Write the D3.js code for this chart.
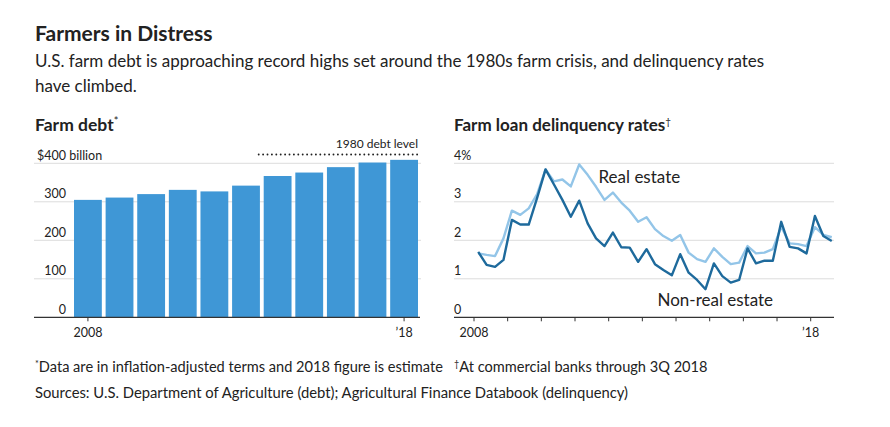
<!DOCTYPE html>
<html><head><meta charset="utf-8">
<script src="https://cdn.jsdelivr.net/npm/d3@7"></script>
<style>
body{margin:0;background:#fff}
svg{display:block}
text{font-family:Lato,"Open Sans",sans-serif;fill:#222}
</style>
</head><body><svg id="c" width="890" height="427"></svg>
<script>
// ---- data ----
const debtYears = [2008,2009,2010,2011,2012,2013,2014,2015,2016,2017,2018];
const debtValues = [305,311,320,331,327,342,367,376,390,402,409];
const debt1980Level = 423;
const debtTicks = [0,100,200,300,400];
const debtTickLabels = ["0","100","200","300","$400"];
const debtXLabels = {2008:"2008",2018:"\u201918"};

const rateStartYear = 2008;
const quarterCount = 43; // 2008 Q1 – 2018 Q3
const realEstate = [1.66,1.62,1.59,2.05,2.77,2.66,2.83,3.20,3.84,3.53,3.58,3.40,3.97,3.70,3.39,3.05,3.24,2.98,2.77,2.48,2.60,2.29,2.11,1.99,2.14,1.68,1.51,1.44,1.79,1.57,1.38,1.42,1.85,1.66,1.68,1.77,2.35,1.92,1.90,1.85,2.34,2.14,2.08];
const nonRealEstate = [1.70,1.36,1.31,1.49,2.53,2.41,2.41,3.10,3.84,3.45,3.05,2.61,3.03,2.44,2.05,1.85,2.20,1.82,1.81,1.44,1.77,1.38,1.23,1.09,1.64,1.16,0.97,0.73,1.40,1.07,0.90,0.97,1.79,1.40,1.47,1.47,2.48,1.83,1.79,1.66,2.63,2.11,1.98];
const rateTicks = [0,1,2,3,4];
const rateTickLabels = ["0","1","2","3","4%"];
const rateYearTicks = d3.range(2008,2019);
const rateXLabels = {2008:"2008",2018:"\u201918"};

const quarters = d3.range(quarterCount).map(i => ({
  t: rateStartYear + Math.floor(i/4) + (i%4)/4 + 0.125
}));

// ---- styles ----
const C = {bar:"#3f97d6", light:"#93c5e8", dark:"#1e6a9c", grid:"#dcdcdc", axis:"#333", text:"#222"};
const TICK_FS = 12.5;

const svg = d3.select("#c");

// titles
svg.append("text").attr("x",35).attr("y",41).attr("font-size",21).attr("font-weight",700).attr("fill","#222")
  .text("Farmers in Distress");
svg.append("text").attr("x",35).attr("y",67).attr("font-size",17).attr("fill","#222")
  .text("U.S. farm debt is approaching record highs set around the 1980s farm crisis, and delinquency rates");
svg.append("text").attr("x",35).attr("y",92).attr("font-size",17).attr("fill","#222")
  .text("have climbed.");

// ---- left: farm debt ----
const h1 = svg.append("text").attr("x",35).attr("y",131).attr("font-size",17.5).attr("font-weight",700);
h1.append("tspan").text("Farm debt");
h1.append("tspan").attr("font-size",11).attr("font-weight",400).attr("dy",-6).text("*");

const yDebt = d3.scaleLinear().domain([0,400]).range([317.3,163.3]);
const xDebt = d3.scaleBand().domain(debtYears).range([74,418]).paddingInner(0.12).paddingOuter(0);

const gL = svg.append("g");
gL.selectAll("line.grid").data(debtTicks.slice(1)).join("line")
  .attr("x1",34).attr("x2",421).attr("y1",d=>yDebt(d)).attr("y2",d=>yDebt(d))
  .attr("stroke",C.grid).attr("stroke-width",1);
gL.selectAll("rect").data(debtYears).join("rect")
  .attr("x",d=>xDebt(d)).attr("width",xDebt.bandwidth())
  .attr("y",(d,i)=>yDebt(debtValues[i])).attr("height",(d,i)=>yDebt(0)-yDebt(debtValues[i]))
  .attr("fill",C.bar);
gL.append("line").attr("x1",34).attr("x2",420).attr("y1",yDebt(0)).attr("y2",yDebt(0))
  .attr("stroke",C.axis).attr("stroke-width",1.3);
debtTicks.forEach((t,i)=>{
  gL.append("text").attr("x",66).attr("y",yDebt(t)-3.5).attr("text-anchor","end")
    .attr("font-size",TICK_FS).text(debtTickLabels[i]);
});
gL.append("text").attr("x",66).attr("y",yDebt(400)-3.5).attr("font-size",TICK_FS).text("\u00a0billion");
Object.keys(debtXLabels).forEach(k=>{
  const x = xDebt(+k)+xDebt.bandwidth()/2;
  gL.append("line").attr("x1",x).attr("x2",x).attr("y1",yDebt(0)).attr("y2",yDebt(0)+4).attr("stroke",C.axis);
  gL.append("text").attr("x",x).attr("y",337).attr("text-anchor","middle").attr("font-size",TICK_FS).text(debtXLabels[k]);
});
// 1980 level
gL.append("line").attr("x1",xDebt(2014)-5).attr("x2",421.5).attr("y1",yDebt(debt1980Level)).attr("y2",yDebt(debt1980Level))
  .attr("stroke","#222").attr("stroke-width",1.9).attr("stroke-dasharray","0,4.4").attr("stroke-linecap","round");
gL.append("text").attr("x",418).attr("y",148).attr("text-anchor","end").attr("font-size",12).text("1980 debt level");

// ---- right: delinquency ----
const h2 = svg.append("text").attr("x",454).attr("y",131).attr("font-size",17).attr("font-weight",700);
h2.append("tspan").text("Farm loan delinquency rates");
h2.append("tspan").attr("font-size",10).attr("font-weight",400).attr("dy",-6).text("\u2020");

const yRate = d3.scaleLinear().domain([0,4]).range([317.3,163.3]);
const xRate = d3.scaleLinear().domain([2008,2018]).range([474,810.7]);
const gR = svg.append("g");
gR.selectAll("line.grid").data(rateTicks.slice(1)).join("line")
  .attr("x1",454).attr("x2",834).attr("y1",d=>yRate(d)).attr("y2",d=>yRate(d))
  .attr("stroke",C.grid).attr("stroke-width",1);
gR.append("line").attr("x1",454).attr("x2",834).attr("y1",yRate(0)).attr("y2",yRate(0))
  .attr("stroke",C.axis).attr("stroke-width",1.3);
rateTicks.forEach((t,i)=>{
  gR.append("text").attr("x",454).attr("y",yRate(t)-3.5).attr("font-size",TICK_FS).text(rateTickLabels[i]);
});
rateYearTicks.forEach(y=>{
  gR.append("line").attr("x1",xRate(y)).attr("x2",xRate(y)).attr("y1",yRate(0)).attr("y2",yRate(0)+4).attr("stroke",C.axis);
});
Object.keys(rateXLabels).forEach(k=>{
  gR.append("text").attr("x",xRate(+k)).attr("y",337).attr("text-anchor","middle").attr("font-size",TICK_FS).text(rateXLabels[k]);
});
const line = d3.line().x((d,i)=>xRate(quarters[i].t)).y(d=>yRate(d));
gR.append("path").datum(realEstate).attr("d",line).attr("fill","none").attr("stroke",C.light).attr("stroke-width",2.4).attr("stroke-linejoin","round");
gR.append("path").datum(nonRealEstate).attr("d",line).attr("fill","none").attr("stroke",C.dark).attr("stroke-width",2.4).attr("stroke-linejoin","round");
gR.append("text").attr("x",598.5).attr("y",183).attr("font-size",17).text("Real estate");
gR.append("text").attr("x",657.5).attr("y",306).attr("font-size",17).text("Non-real estate");

// footnotes
const f1 = svg.append("text").attr("x",35).attr("y",372).attr("font-size",14.6).attr("fill","#333");
f1.append("tspan").attr("font-size",9).attr("dy",-5).text("*");
f1.append("tspan").attr("dy",5).text("Data are in inflation-adjusted terms and 2018 figure is estimate\u00a0\u00a0 ");
f1.append("tspan").attr("font-size",9).attr("dy",-5).text("\u2020");
f1.append("tspan").attr("dy",5).text("At commercial banks through 3Q 2018");
svg.append("text").attr("x",35).attr("y",398).attr("font-size",14.8).attr("fill","#333")
  .text("Sources: U.S. Department of Agriculture (debt); Agricultural Finance Databook (delinquency)");
</script>
</body></html>
